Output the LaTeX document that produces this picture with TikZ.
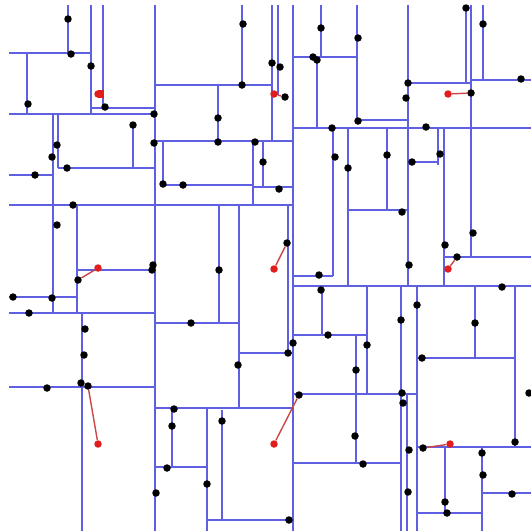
\documentclass[tikz,border=0pt]{standalone}
\definecolor{kdBlue}{RGB}{95,95,225}
\definecolor{kdRed}{RGB}{225,30,30}
\definecolor{kdLink}{RGB}{205,70,70}
\usepackage{tikz}
\begin{document}
\begin{tikzpicture}[x=0.02cm, y=-0.02cm,
  split/.style={kdBlue, line width=1.2pt},
  pt/.style={circle, fill=black, inner sep=0pt, minimum size=0.15cm},
  qry/.style={circle, fill=kdRed, inner sep=0pt, minimum size=0.15cm},
  nnlink/.style={kdLink, line width=0.8pt}
]
  \fill[white] (0,0) rectangle (531,531);
  \useasboundingbox (0,0) rectangle (531,531);

  % vertical splits: x / top / bottom
  \foreach \x/\ya/\yb in {293/5/531, 155/5/531, 68/5/53, 91/5/114, 103/5/108,
      27/53/114, 53/114/313, 58/114/168, 133/125/168, 77/205/313, 82/313/531,
      242/5/85, 272/5/141, 278/5/95, 218/85/142, 163/142/185, 253/142/205,
      263/142/187, 219/205/323, 239/205/408, 288/205/353, 172/408/467,
      207/408/531, 222/410/520, 321/5/57, 317/57/128, 357/5/122, 408/5/286,
      466/5/83, 471/5/257, 483/5/80, 333/128/276, 348/128/286, 387/128/210,
      438/128/165, 444/128/286, 322/286/335, 367/286/393, 356/335/463,
      401/286/531, 407/394/531, 417/286/531, 475/286/358, 515/286/447,
      445/447/513, 482/447/531}
    \draw[split] (\x,\ya) -- (\x,\yb);

  % horizontal splits: y / left / right
  \foreach \y/\xa/\xb in {53/9/91, 108/91/155, 114/9/155, 168/58/155, 175/9/53,
      205/9/293, 270/77/155, 297/9/77, 313/9/155, 387/9/155, 85/155/272,
      141/155/293, 185/163/253, 187/253/293, 323/155/239, 353/239/293,
      408/155/293, 467/155/207, 520/207/293, 57/293/357, 120/357/408,
      128/293/531, 83/408/471, 80/471/531, 162/408/438, 210/348/408,
      276/293/333, 257/444/531, 286/293/531, 335/293/367, 394/293/417,
      463/293/401, 358/417/515, 447/417/531, 513/417/482, 493/482/531}
    \draw[split] (\xa,\y) -- (\xb,\y);

  % points
  \foreach \x/\y [count=\i] in {68/19, 71/54, 91/66, 28/104, 105/107, 154/114,
      57/145, 52/157, 67/168, 133/125, 154/143, 35/175, 73/205, 57/225,
      153/265, 152/270, 13/297, 52/298, 29/313, 85/329, 84/355, 47/388,
      81/383, 243/24, 242/85, 272/63, 280/67, 218/118, 218/142, 255/142,
      163/184, 183/185, 263/162, 279/189, 219/270, 191/323, 288/353, 293/343,
      238/365, 174/409, 172/426, 167/468, 156/493, 207/484, 222/421, 289/520,
      321/28, 313/57, 317/60, 358/38, 358/121, 408/83, 406/98, 466/8, 483/24,
      521/79, 426/127, 332/128, 335/157, 348/168, 387/155, 402/212, 319/275,
      412/162, 440/154, 409/265, 445/245, 473/233, 502/287, 321/290, 328/335,
      367/345, 401/320, 417/305, 475/323, 356/370, 355/436, 363/464, 402/393,
      403/403, 422/358, 515/442, 529/393, 409/450, 408/492, 445/502, 447/513,
      482/453, 483/475, 512/494}
    \node[pt] (p\i) at (\x,\y) {};

  % nearest neighbours
  \node[pt] (n2) at (285,97) {};
  \node[pt] (n3) at (471,93) {};
  \node[pt] (n4) at (78,280) {};
  \node[pt] (n5) at (287,243) {};
  \node[pt] (n6) at (457,257) {};
  \node[pt] (n7) at (88,386) {};
  \node[pt] (n8) at (299,395) {};
  \node[pt] (n9) at (423,448) {};
  \coordinate (n1) at (104,94);

  % queries
  \node[qry] (q1) at (98,94) {};
  \node[qry] (q2) at (274,94) {};
  \node[qry] (q3) at (448,94) {};
  \node[qry] (q4) at (98,268) {};
  \node[qry] (q5) at (274,269) {};
  \node[qry] (q6) at (448,269) {};
  \node[qry] (q7) at (98,444) {};
  \node[qry] (q8) at (274,444) {};
  \node[qry] (q9) at (450,444) {};

  \foreach \i in {2,...,9}
    \draw[nnlink] (q\i) -- (n\i);
  \draw[kdRed, line width=4pt] (q1.center) -- (n1);
\end{tikzpicture}
\end{document}
